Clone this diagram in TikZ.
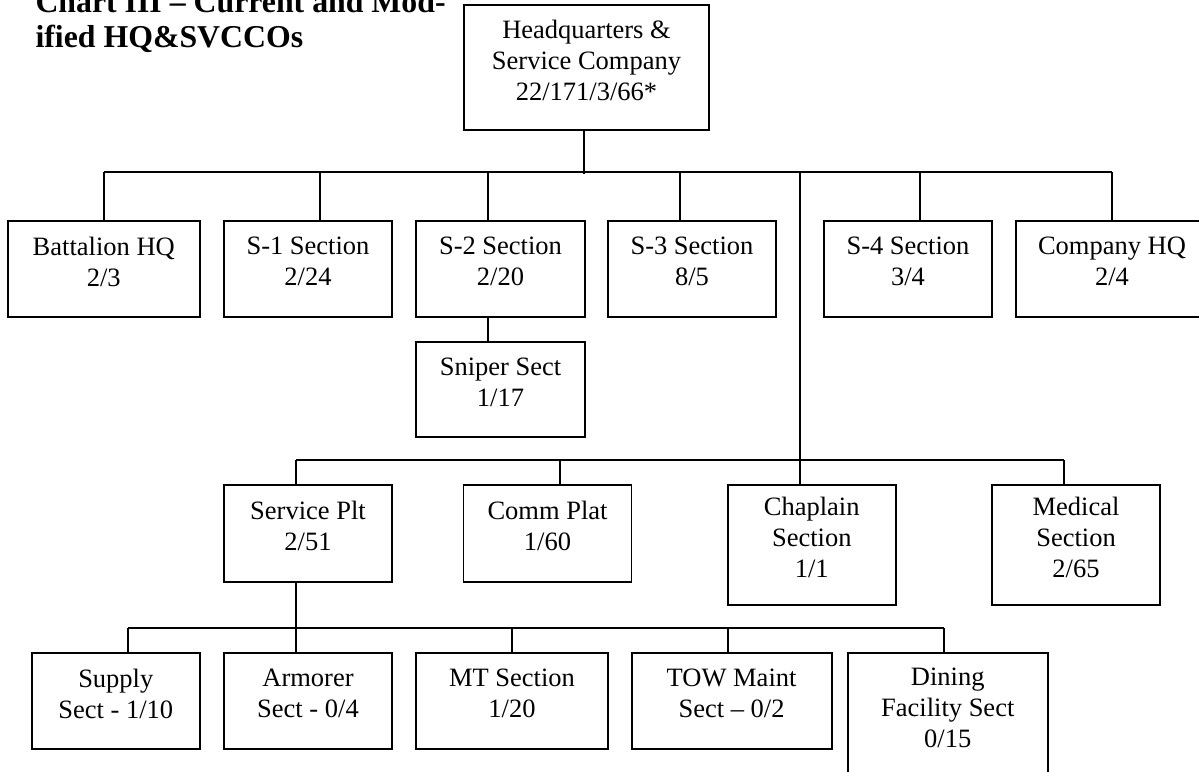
\documentclass[tikz,border=0pt]{standalone}
\usepackage{fontspec}
\setmainfont{Liberation Serif}

\begin{document}
\begin{tikzpicture}[x=1pt, y=-1pt,
    unit/.style={draw, line width=1.8pt, align=center, inner sep=0pt,
      text depth=15pt, font=\fontsize{26.5}{31}\selectfont},
    link/.style={line width=1.8pt}]
    \useasboundingbox (0,0) rectangle (1199,771);
    \clip (0,0) rectangle (1199,771);
    \node[anchor=base west, align=left, font=\fontsize{31.8}{35}\selectfont\bfseries]
      (title) at (32,47) {Chart III – Current and Mod-\\ified HQ\&SVCCOs};
    \node[unit, minimum width=245, minimum height=125] (hq) at (586.5,67.5)
      {Headquarters \&\\Service Company\\22/171/3/66*};
    % staff sections
    \node[unit, minimum width=192, minimum height=96] (bn)  at (103.75,269) {Battalion HQ\\2/3};
    \node[unit, minimum width=168, minimum height=96] (s1)  at (308,269)    {S-1 Section\\2/24};
    \node[unit, minimum width=169, minimum height=96] (s2)  at (500.5,269)  {S-2 Section\\2/20};
    \node[unit, minimum width=169, minimum height=95] (sn)  at (500.5,389.5) {Sniper Sect\\1/17};
    \node[unit, minimum width=168, minimum height=96] (s3)  at (692,269)    {S-3 Section\\8/5};
    \node[unit, minimum width=168, minimum height=96] (s4)  at (908,269)    {S-4 Section\\3/4};
    \node[unit, minimum width=192, minimum height=96] (chq) at (1112,269)   {Company HQ\\2/4};
    % platoons and special sections
    \node[unit, minimum width=168, minimum height=97]  (svc)  at (308,533.5)    {Service Plt\\2/51};
    \node[unit, minimum width=168, minimum height=97]  (comm) at (547.5,533.5)  {Comm Plat\\1/60};
    \node[unit, minimum width=168, minimum height=120] (chap) at (811.75,545)   {Chaplain\\Section\\1/1};
    \node[unit, minimum width=168, minimum height=120] (med)  at (1076,545)     {Medical\\Section\\2/65};
    % service platoon
    \node[unit, minimum width=168, minimum height=96]  (sup) at (115.8,701)  {Supply\\Sect - 1/10};
    \node[unit, minimum width=168, minimum height=96]  (arm) at (308,701)    {Armorer\\Sect - 0/4};
    \node[unit, minimum width=192, minimum height=96]  (mt)  at (512,701)    {MT Section\\1/20};
    \node[unit, minimum width=200, minimum height=96]  (tow) at (731.6,701)  {TOW Maint\\Sect – 0/2};
    \node[unit, minimum width=200, minimum height=124] (din) at (947.75,715) {Dining\\Facility Sect\\0/15};

    \draw[link] ([xshift=-2.5]hq.south) -- ++(0,43);
    \draw[link] ([yshift=48]bn.north) -- ([yshift=48]chq.north);
    \foreach \n/\d in {bn/0, s1/12, s2/-12.5, s3/-12, s4/12, chq/0}
      \draw[link] ([xshift=\d]\n.north) -- ++(0,-48);
    \draw[link] ([xshift=-12.5]s2.south) -- ([xshift=-12.5]sn.north);
    \draw[link] ([xshift=-11.75]chap.north) -- ++(0,-312);
    \draw[link] ([xshift=-12,yshift=24]svc.north) -- ([xshift=-12,yshift=24]med.north);
    \foreach \n/\d in {svc/-12, comm/12.5, chap/-11.75, med/-12}
      \draw[link] ([xshift=\d]\n.north) -- ++(0,-24);
    \draw[link] ([xshift=-12]svc.south) -- ([xshift=-12]arm.north);
    \draw[link] ([xshift=12.2,yshift=24]sup.north) -- ([xshift=-3.75,yshift=24]din.north);
    \foreach \n/\d in {sup/12.2, mt/0, tow/-3.6, din/-3.75}
      \draw[link] ([xshift=\d]\n.north) -- ++(0,-24);
\end{tikzpicture}
\end{document}
